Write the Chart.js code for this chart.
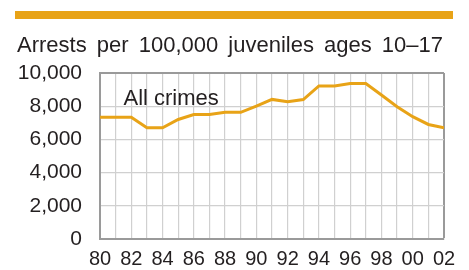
<!DOCTYPE html>
<html>
<head>
<meta charset="utf-8">
<script src="https://cdn.jsdelivr.net/npm/chart.js@4/dist/chart.umd.min.js"></script>
<style>
  html, body { margin: 0; padding: 0; background: #fff; }
  #wrap { width: 469px; height: 270px; position: relative; }
</style>
</head>
<body>
<div id="wrap"><canvas id="arrestChart" width="469" height="270"></canvas></div>
<script>
// juvenile arrest rate, all crimes
const years = [1980, 1981, 1982, 1983, 1984, 1985, 1986, 1987, 1988, 1989, 1990, 1991,
    1992, 1993, 1994, 1995, 1996, 1997, 1998, 1999, 2000, 2001, 2002];
const arrestRate = [7330, 7330, 7330, 6700, 6700, 7200, 7500, 7500, 7630, 7630, 8010, 8410,
    8270, 8400, 9220, 9220, 9360, 9360, 8670, 7970, 7370, 6900, 6700];
const yTicks = [0, 2000, 4000, 6000, 8000, 10000];
const titleText = "Arrests per 100,000 juveniles ages 10\u201317";
const seriesLabel = "All crimes";

const orange = "#E8A317";
const textColor = "#231F20";
const font = "Liberation Sans, Arial, Helvetica, sans-serif";

const decorations = {
    id: "decorations",
    beforeDraw(chart) {
        const c = chart.ctx;
        c.save();
        c.fillStyle = orange;
        c.fillRect(15, 11, 438, 8);
        c.fillStyle = textColor;
        c.font = "22px " + font;
        c.textBaseline = "alphabetic";
        c.textAlign = "left";
        c.wordSpacing = "4px";
        c.fillText(titleText, 17, 52);
        c.restore();
    },
    afterDatasetsDraw(chart) {
        const c = chart.ctx;
        const x = chart.scales.x.getPixelForValue(1981.5);
        const y = chart.scales.y.getPixelForValue(8100);
        c.save();
        c.fillStyle = textColor;
        c.font = "22px " + font;
        c.textAlign = "left";
        c.textBaseline = "alphabetic";
        c.fillText(seriesLabel, x, y);
        c.restore();
    }
};

const ctx = document.getElementById("arrestChart").getContext("2d");

const chart = new Chart(ctx, {
    type: "line",
    data: {
        datasets: [{
            label: seriesLabel,
            data: years.map((yr, i) => ({ x: yr, y: arrestRate[i] })),
            borderColor: orange,
            borderWidth: 3,
            pointRadius: 0,
            tension: 0,
            fill: false
        }]
    },
    options: {
        responsive: false,
        animation: false,
        layout: { padding: { top: 73, right: 25, left: 0, bottom: 0 } },
        plugins: {
            legend: { display: false },
            tooltip: { enabled: false }
        },
        scales: {
            x: {
                type: "linear",
                min: years[0],
                max: years[years.length - 1],
                afterBuildTicks: (axis) => {
                    axis.ticks = years.map(v => ({ value: v }));
                },
                afterFit: (axis) => { axis.height = 31; },
                ticks: {
                    autoSkip: false,
                    maxRotation: 0,
                    padding: 8,
                    color: textColor,
                    font: { family: font, size: 20 },
                    callback: (v) => (v % 2 === 0 ? String(v).slice(2) : "")
                },
                grid: {
                    drawTicks: false,
                    color: (c) => (c.tick && c.tick.value === years[years.length - 1] ? "#9a9a9a" : "#d0d0d0"),
                    lineWidth: (c) => (c.tick && c.tick.value === years[years.length - 1] ? 2 : 1.2)
                },
                border: { color: "#9a9a9a", width: 2 }
            },
            y: {
                min: 0,
                max: 10000,
                afterBuildTicks: (axis) => {
                    axis.ticks = yTicks.map(v => ({ value: v }));
                },
                afterFit: (axis) => { axis.width = 100; },
                ticks: {
                    padding: 18,
                    color: textColor,
                    font: { family: font, size: 21 },
                    callback: (v) => v.toLocaleString("en-US")
                },
                grid: {
                    drawTicks: false,
                    color: (c) => (c.tick && c.tick.value === 10000 ? "#9a9a9a" : "#d0d0d0"),
                    lineWidth: (c) => (c.tick && c.tick.value === 10000 ? 2 : 1.2)
                },
                border: { color: "#9a9a9a", width: 2 }
            }
        }
    },
    plugins: [decorations]
});
</script>
</body>
</html>
